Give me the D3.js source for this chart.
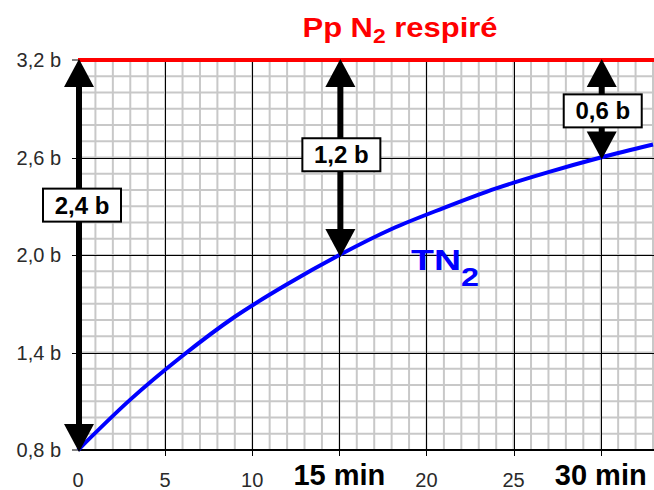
<!DOCTYPE html>
<html>
<head>
<meta charset="utf-8">
<script src="https://cdn.jsdelivr.net/npm/d3@7"></script>
<style>
  body { margin: 0; background: #fff; }
  svg { display: block; font-family: Arial, "Liberation Sans", Helvetica, sans-serif; }
</style>
</head>
<body>
<svg id="chart" width="654" height="490"></svg>
<script>
// data
const minutes = [0, 3, 6, 9, 12, 15, 18, 21, 24, 27, 30, 33];
const tn2 = [0.80, 1.11, 1.38, 1.62, 1.82, 2.00, 2.16, 2.29, 2.41, 2.51, 2.60, 2.68];
const ppN2 = 3.2;

const xTicks = [0, 5, 10, 15, 20, 25, 30];
const xTickLabels = ['0', '5', '10', '15 min', '20', '25', '30 min'];
const yTicks = [0.8, 1.4, 2.0, 2.6, 3.2];
const yTickLabels = ['0,8 b', '1,4 b', '2,0 b', '2,6 b', '3,2 b'];

const gapTimes = [0, 15, 30];
const gapFrom = [0.8, 2.0, 2.6];
const gapLabels = ['2,4 b', '1,2 b', '0,6 b'];

const svg = d3.select('#chart');

const x = d3.scaleLinear().domain([0, 33]).range([78, 653]);
const y = d3.scaleLinear().domain([0.8, 3.2]).range([450, 60]);

// minor grid
const grid = svg.append('g');
grid.selectAll('.vminor')
  .data(d3.range(1, 34))
  .enter()
  .append('line')
  .attr('x1', (d) => x(d))
  .attr('x2', (d) => x(d))
  .attr('y1', y(3.2))
  .attr('y2', y(0.8))
  .attr('stroke', '#c8c8c8')
  .attr('stroke-width', 2);

grid.selectAll('.hminor')
  .data(d3.range(9, 32).map((d) => d / 10))
  .enter()
  .append('line')
  .attr('x1', x(0))
  .attr('x2', 654)
  .attr('y1', (d) => y(d))
  .attr('y2', (d) => y(d))
  .attr('stroke', '#c8c8c8')
  .attr('stroke-width', 2);

// major grid + ticks
grid.selectAll('.vmajor')
  .data(xTicks.slice(1))
  .enter()
  .append('line')
  .attr('x1', (d) => Math.round(x(d)) + 0.5)
  .attr('x2', (d) => Math.round(x(d)) + 0.5)
  .attr('y1', y(3.2))
  .attr('y2', y(0.8) + 6)
  .attr('stroke', '#000')
  .attr('stroke-width', 1);

grid.selectAll('.hmajor')
  .data(yTicks.slice(1, 4))
  .enter()
  .append('line')
  .attr('x1', x(0) - 6)
  .attr('x2', 654)
  .attr('y1', (d) => Math.round(y(d)) + 0.5)
  .attr('y2', (d) => Math.round(y(d)) + 0.5)
  .attr('stroke', '#000')
  .attr('stroke-width', 1);

// bottom axis line
svg.append('line')
  .attr('x1', x(0))
  .attr('x2', 654)
  .attr('y1', y(0.8))
  .attr('y2', y(0.8))
  .attr('stroke', '#000')
  .attr('stroke-width', 2);

// y tick marks at ends
svg.selectAll('.yend')
  .data([0.8, 3.2])
  .enter()
  .append('line')
  .attr('x1', x(0) - 6)
  .attr('x2', x(0))
  .attr('y1', (d) => y(d))
  .attr('y2', (d) => y(d))
  .attr('stroke', '#000');

// tick labels
svg.selectAll('.ylab')
  .data(yTicks)
  .enter()
  .append('text')
  .attr('x', 61)
  .attr('y', (d) => y(d) + 7)
  .attr('text-anchor', 'end')
  .attr('font-size', 20)
  .attr('fill', '#2a2a2a')
  .text((d, i) => yTickLabels[i]);

svg.selectAll('.xlab')
  .data(xTicks)
  .enter()
  .append('text')
  .attr('x', (d) => x(d))
  .attr('y', (d, i) => (xTickLabels[i].includes('min') ? 485 : 487))
  .attr('text-anchor', 'middle')
  .attr('font-size', (d, i) => (xTickLabels[i].includes('min') ? 29 : 20))
  .attr('font-weight', (d, i) => (xTickLabels[i].includes('min') ? 'bold' : 'normal'))
  .attr('fill', (d, i) => (xTickLabels[i].includes('min') ? '#000' : '#2a2a2a'))
  .text((d, i) => xTickLabels[i]);

// respired N2 line
svg.append('line')
  .attr('x1', x(0))
  .attr('x2', 654)
  .attr('y1', y(ppN2))
  .attr('y2', y(ppN2))
  .attr('stroke', '#ff0000')
  .attr('stroke-width', 4);

// tissue curve
const line = d3.line()
  .x((d, i) => x(minutes[i]))
  .y((d) => y(d))
  .curve(d3.curveMonotoneX);

svg.append('path')
  .datum(tn2)
  .attr('d', line)
  .attr('fill', 'none')
  .attr('stroke', '#0000ff')
  .attr('stroke-width', 4);

// double arrows
const headH = 28;
const headW = 30;
const arrows = svg.append('g');
gapTimes.forEach((t, i) => {
  const cx = x(t) + 1;
  const top = y(ppN2) - 1;
  const bot = y(gapFrom[i]) + 2;
  arrows.append('line')
    .attr('x1', cx)
    .attr('x2', cx)
    .attr('y1', top + headH - 2)
    .attr('y2', bot - headH + 2)
    .attr('stroke', '#000')
    .attr('stroke-width', 6);
  arrows.append('path')
    .attr('d', `M${cx},${top} L${cx + headW / 2},${top + headH} L${cx - headW / 2},${top + headH} Z`)
    .attr('fill', '#000');
  arrows.append('path')
    .attr('d', `M${cx},${bot} L${cx + headW / 2},${bot - headH} L${cx - headW / 2},${bot - headH} Z`)
    .attr('fill', '#000');
});

// value boxes
const boxY = [2.31, 2.62, 2.89];
gapTimes.forEach((t, i) => {
  const cx = x(t) + (i === 0 ? 4 : 2);
  const cy = y(boxY[i]);
  const g = svg.append('g').attr('transform', `translate(${cx},${cy})`);
  g.append('rect')
    .attr('x', -39)
    .attr('y', -16)
    .attr('width', 78)
    .attr('height', 33)
    .attr('fill', '#fff')
    .attr('stroke', '#000')
    .attr('stroke-width', 2);
  g.append('text')
    .attr('y', 9)
    .attr('text-anchor', 'middle')
    .attr('font-size', 24)
    .attr('font-weight', 'bold')
    .text(gapLabels[i]);
});

// title
const title = svg.append('text')
  .attr('x', 400)
  .attr('y', 37)
  .attr('text-anchor', 'middle')
  .attr('font-size', 27)
  .attr('font-weight', 'bold')
  .attr('fill', '#ff0000')
  .attr('textLength', 195)
  .attr('lengthAdjust', 'spacingAndGlyphs');
title.append('tspan').text('Pp N');
title.append('tspan').attr('font-size', 20).attr('dy', 6).text('2');
title.append('tspan').attr('dy', -6).text(' respiré');

// curve label
const lab = svg.append('text')
  .attr('x', 411)
  .attr('y', 270)
  .attr('font-size', 29)
  .attr('font-weight', 'bold')
  .attr('fill', '#0000ff')
  .attr('textLength', 68)
  .attr('lengthAdjust', 'spacingAndGlyphs');
lab.append('tspan').text('TN');
lab.append('tspan').attr('font-size', 25).attr('dy', 16).text('2');
</script>
</body>
</html>
